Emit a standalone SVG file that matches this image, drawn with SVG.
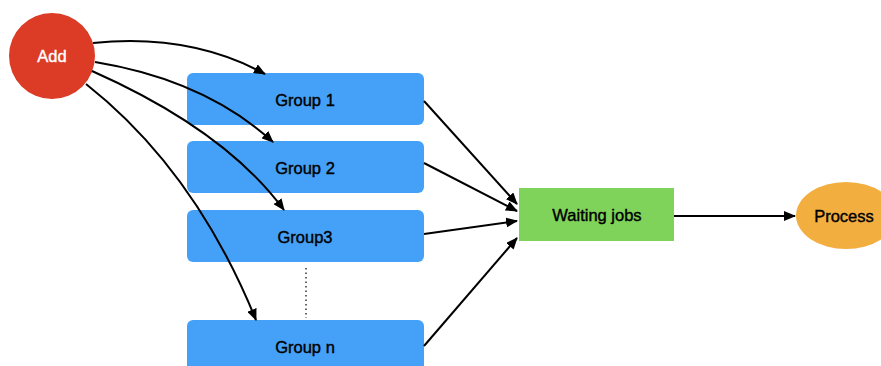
<svg xmlns="http://www.w3.org/2000/svg" width="881" height="366" viewBox="0 0 881 366">
<style>
.lbl{font-family:"Liberation Sans",Arial,sans-serif;font-size:16.5px;text-anchor:middle;dominant-baseline:central;fill:#000;stroke:#000;stroke-width:0.4}
.wh{fill:#fff;stroke:#fff}
.grp{fill:#45A1F7}
.edge{fill:none;stroke:#000;stroke-width:2}
</style>
<defs>
<marker id="ah" markerUnits="userSpaceOnUse" markerWidth="12" markerHeight="10" refX="11" refY="5" orient="auto">
<path d="M0,0 L12,5 L0,10 Z" fill="#000"/>
</marker>
</defs>
<rect width="881" height="366" fill="#fff"/>
<g id="add">
<circle cx="52" cy="56" r="43" fill="#DC3B26"/>
<text class="lbl wh" x="52" y="56">Add</text>
</g>
<g id="group1">
<rect class="grp" x="187" y="73" width="237" height="52" rx="6"/>
<text class="lbl" x="305" y="100">Group 1</text>
</g>
<g id="group2">
<rect class="grp" x="187" y="141" width="237" height="52" rx="6"/>
<text class="lbl" x="305" y="168">Group 2</text>
</g>
<g id="group3">
<rect class="grp" x="187" y="210" width="237" height="52" rx="6"/>
<text class="lbl" x="305" y="237">Group3</text>
</g>
<g id="groupn">
<rect class="grp" x="187" y="320" width="237" height="60" rx="6"/>
<text class="lbl" x="305" y="347">Group n</text>
</g>
<g id="waiting">
<rect x="519" y="188" width="155" height="53" fill="#7FD35A"/>
<text class="lbl" x="597" y="215">Waiting jobs</text>
</g>
<g id="process">
<ellipse cx="846" cy="215.5" rx="50" ry="33.5" fill="#F3AE40"/>
<text class="lbl" x="844" y="216">Process</text>
</g>
<g id="connectors">
<path class="edge" marker-end="url(#ah)" d="M93,43 Q190,33 265,74"/>
<path class="edge" marker-end="url(#ah)" d="M95,62 Q205,80 273,142"/>
<path class="edge" marker-end="url(#ah)" d="M92,71 Q225,130 284,210"/>
<path class="edge" marker-end="url(#ah)" d="M86,84 Q195,170 256,320"/>
<path class="edge" marker-end="url(#ah)" d="M424,101 L517,204"/>
<path class="edge" marker-end="url(#ah)" d="M424,163 L517,211"/>
<path class="edge" marker-end="url(#ah)" d="M424,234 L517,221"/>
<path class="edge" marker-end="url(#ah)" d="M424,346 L517,238"/>
<path class="edge" marker-end="url(#ah)" d="M674,216 L795,216"/>
<line x1="306" y1="268" x2="306" y2="318" stroke="#333" stroke-width="1.5" stroke-dasharray="1.5,3"/>
</g>
</svg>
